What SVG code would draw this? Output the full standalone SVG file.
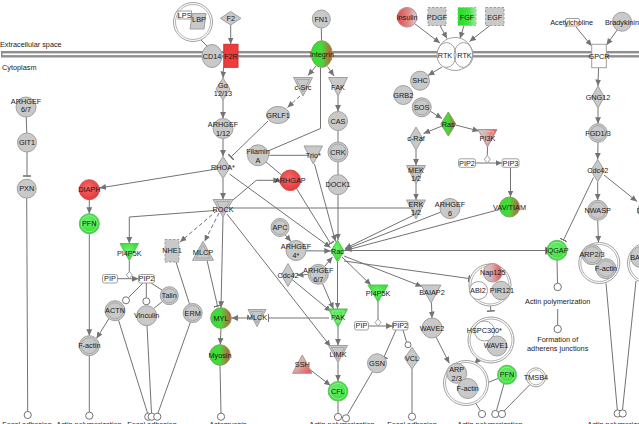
<svg xmlns="http://www.w3.org/2000/svg" width="639" height="424" viewBox="0 0 639 424">
<defs>
<style>
text{font-family:"Liberation Sans",Arial,sans-serif;font-size:7.3px;fill:#1a1a1a;text-anchor:middle}
text.l{text-anchor:start}
.n{fill:#c9c9c9;stroke:#a0a0a0;stroke-width:1}
.w{fill:#fff;stroke:#a0a0a0;stroke-width:1}
.i{fill:none;stroke:#a0a0a0;stroke-width:0.8}
.gi{fill:none;stroke:#a8eaa8;stroke-width:0.8}
.g{fill:url(#gn);stroke:#5bc45b;stroke-width:1}
.r{fill:url(#rd);stroke:#d05050;stroke-width:1}
.gr{fill:url(#grr);stroke:#8a9a6a;stroke-width:1}
.yr{fill:url(#gyr);stroke:#b89090;stroke-width:1}
.dsh{stroke-dasharray:2.5 1.5}
#connectors path{fill:none;stroke:#737373;stroke-width:1}
#connectors .d{stroke-dasharray:4 2.5}
.o{fill:#fff;stroke:#737373;stroke-width:1}
</style>
<radialGradient id="gn" cx="0.45" cy="0.4" r="0.65"><stop offset="0" stop-color="#6cf46c"/><stop offset="1" stop-color="#2fd62f"/></radialGradient>
<radialGradient id="rd" cx="0.45" cy="0.4" r="0.65"><stop offset="0" stop-color="#f46a6a"/><stop offset="1" stop-color="#e53434"/></radialGradient>
<linearGradient id="grr" x1="0" y1="0" x2="1" y2="0"><stop offset="0" stop-color="#2ee42e"/><stop offset="0.5" stop-color="#48d83a"/><stop offset="1" stop-color="#c8553a"/></linearGradient>
<linearGradient id="gyr" x1="0" y1="0" x2="1" y2="0"><stop offset="0" stop-color="#cdcdcd"/><stop offset="0.45" stop-color="#d8b0b0"/><stop offset="1" stop-color="#e84848"/></linearGradient>
<linearGradient id="gyr2" x1="0" y1="0" x2="1" y2="1"><stop offset="0" stop-color="#cdcdcd"/><stop offset="0.45" stop-color="#d8b0b0"/><stop offset="1" stop-color="#e84848"/></linearGradient>
<linearGradient id="rgy" x1="0" y1="0" x2="1" y2="0"><stop offset="0" stop-color="#e04c4c"/><stop offset="0.6" stop-color="#e08a8a"/><stop offset="1" stop-color="#d8d8d8"/></linearGradient>
<linearGradient id="fgf" x1="0" y1="0" x2="1" y2="0"><stop offset="0" stop-color="#22dd22"/><stop offset="0.6" stop-color="#44e044"/><stop offset="1" stop-color="#a6e8a6"/></linearGradient>
<marker id="a" viewBox="0 0 10 10" refX="10" refY="5" markerWidth="6.5" markerHeight="6.5" markerUnits="userSpaceOnUse" orient="auto"><path d="M0,0.5 L10,5 L0,9.5 z" fill="#737373"/></marker>
<marker id="t" viewBox="0 0 2 10" refX="1" refY="5" markerWidth="1.6" markerHeight="8" markerUnits="userSpaceOnUse" orient="auto"><rect width="2" height="10" fill="#737373"/></marker>
</defs>
<rect width="639" height="424" fill="#fff"/>
<g id="membrane">
<rect x="1" y="51" width="640" height="6.5" fill="#8e8e8e"/>
<rect x="2.5" y="53.4" width="640" height="1.7" fill="#fff"/>
<text class="l" x="0" y="47">Extracellular space</text>
<text class="l" x="2" y="69.5">Cytoplasm</text>
</g>
<g id="connectors">
<path d="M200.5,39.5 L207,46"/>
<path d="M230.7,25 L230.7,44" marker-end="url(#a)"/>
<path d="M223.5,67.3 L223,78" marker-end="url(#a)"/>
<path d="M223,100 L223,118.5" marker-end="url(#a)"/>
<path d="M223,138.5 L223,156.5" marker-end="url(#a)"/>
<path d="M223,178.5 L223,199.5" marker-end="url(#a)"/>
<path d="M216.5,169 L99.5,188" marker-end="url(#a)"/>
<path d="M229.5,174 L330.5,247.5" marker-end="url(#a)"/>
<path d="M227,205 L256.3,180.3 L279.8,180.3" marker-end="url(#a)"/>
<path d="M228,208 L410.5,208"/>
<path d="M215,210.5 L129.3,217 L129.3,243.5" marker-end="url(#a)"/>
<path class="d" d="M217,210.5 L180,242" marker-end="url(#a)"/>
<path class="d" d="M219,213 L204.5,241.5" marker-end="url(#a)"/>
<path d="M223,217 L221,307.7" marker-end="url(#a)"/>
<path d="M227,214 L330.5,346.5" marker-end="url(#a)"/>
<path d="M316,66 L308,75.5" marker-end="url(#a)"/>
<path d="M327.5,66.5 L334,76" marker-end="url(#a)"/>
<path d="M321.3,28 L321.5,40.7"/>
<path class="d" d="M300,96 L287.5,107.5" marker-end="url(#a)"/>
<path d="M268,121 L231,157" marker-end="url(#t)"/>
<path d="M320.5,67.3 L320.5,128.5 L267.6,151.2"/>
<path d="M268.5,155.3 L308.5,155.3"/>
<path d="M266,162 L281.5,175"/>
<path d="M338,96 L338,111.5" marker-end="url(#a)"/>
<path d="M338,130.5 L338,142"/>
<path d="M338,162 L338,174.7"/>
<path d="M338,194.7 L338,240" marker-end="url(#a)"/>
<path d="M314.5,164 L335.5,241.5" marker-end="url(#a)"/>
<path d="M296.5,188.5 L330.5,243.5" marker-end="url(#t)"/>
<path d="M285,234.5 L291,241.5" marker-end="url(#a)"/>
<path d="M306,250.8 L330.8,251" marker-end="url(#a)"/>
<path d="M324.5,266.5 L332.5,257" marker-end="url(#a)"/>
<path d="M308.3,274.5 L297,275" marker-end="url(#a)"/>
<path d="M292,279.5 L331,311.5" marker-end="url(#a)"/>
<path d="M322.5,283.5 L333.5,309" marker-end="url(#a)"/>
<path d="M337.5,262 L337.5,309" marker-end="url(#a)"/>
<path d="M342,257 L371,285" marker-end="url(#a)"/>
<path d="M344,256 L422,286.5" marker-end="url(#a)"/>
<path d="M344,261 L469,278.5" marker-end="url(#t)"/>
<path d="M344,250.5 L546,250.5" marker-end="url(#t)"/>
<path d="M414,215 L345,248.5" marker-end="url(#a)"/>
<path d="M441,212 L345,249.5" marker-end="url(#a)"/>
<path d="M499.5,209.5 L345,250.5" marker-end="url(#a)"/>
<path d="M431.5,303 L432,318" marker-end="url(#a)"/>
<path d="M378,302 L378,319"/>
<path d="M368.5,326 L392.5,326" marker-end="url(#a)"/>
<path d="M329,318 L268.5,318" marker-end="url(#t)"/>
<path d="M251.5,318 L231.5,318" marker-end="url(#a)"/>
<path d="M207,260.3 L217.5,306" marker-end="url(#t)"/>
<path d="M221,328.3 L220.3,344.5" marker-end="url(#a)"/>
<path d="M220,365.3 L221,413"/>
<path d="M338,327 L338,345.5" marker-end="url(#a)"/>
<path d="M338,362.5 L338,381.3" marker-end="url(#a)"/>
<path d="M308,368 L330.5,385.5" marker-end="url(#a)"/>
<path d="M338,401 L338,413.3"/>
<path d="M372.5,371.5 L347.5,414.5"/>
<path d="M396,330 L384,357" marker-end="url(#t)"/>
<path d="M403,330 L406.5,341.8"/>
<path d="M412,369 L412,413"/>
<path d="M26.2,117 L26.8,133"/>
<path d="M27,152 L27,176" marker-end="url(#t)"/>
<path d="M26.7,198.2 L27.7,411.3"/>
<path d="M89.3,199.7 L89.3,213.7" marker-end="url(#a)"/>
<path d="M89.3,233.7 L89.3,335.7" marker-end="url(#a)"/>
<path d="M89.3,355.7 L89.3,412"/>
<path d="M109,318.5 L96.5,338.5" marker-end="url(#a)"/>
<path d="M129.3,260.5 L129.3,271.5"/>
<path d="M117.5,278.7 L138.5,278.7" marker-end="url(#a)"/>
<path d="M143,283 L128.5,297.5"/>
<path d="M146.3,283 L146.3,297.8"/>
<path d="M151,283 L162,290"/>
<path d="M153.5,308.5 L162.5,301.5"/>
<path d="M118.5,320 L147.5,413"/>
<path d="M147,325.7 L151.5,413"/>
<path d="M190.5,322 L158,413"/>
<path d="M176,262 L189.5,304"/>
<path d="M414.5,23.5 L440,43" marker-end="url(#a)"/>
<path d="M440,25.5 L447,38.5" marker-end="url(#a)"/>
<path d="M464,25.5 L460,38.5" marker-end="url(#a)"/>
<path d="M490,25.5 L469.5,41.5" marker-end="url(#a)"/>
<path d="M442,67 L428,75.5" marker-end="url(#a)"/>
<path d="M430,111 L442,118.5" marker-end="url(#a)"/>
<path d="M442,126 L423.5,133.5" marker-end="url(#a)"/>
<path d="M455.5,125 L479,131" marker-end="url(#a)"/>
<path d="M416,150 L416,165.5" marker-end="url(#a)"/>
<path d="M416,184 L416,200" marker-end="url(#a)"/>
<path d="M487.5,147 L487.3,155.5"/>
<path d="M475.5,163 L502,163" marker-end="url(#a)"/>
<path d="M510.5,167.3 L510.5,197" marker-end="url(#a)"/>
<path d="M576,27 L591.7,46" marker-end="url(#a)"/>
<path d="M617.5,29.5 L606.5,45" marker-end="url(#a)"/>
<path d="M598.5,67.7 L598,86" marker-end="url(#a)"/>
<path d="M598,108 L598,123.7" marker-end="url(#a)"/>
<path d="M598,142.3 L597.7,159.5" marker-end="url(#a)"/>
<path d="M597.7,181.5 L597.7,200.3" marker-end="url(#a)"/>
<path d="M604,175 L637,201.5" marker-end="url(#a)"/>
<path d="M593.5,177.5 L563.5,240" marker-end="url(#t)"/>
<path d="M597.7,220.3 L598.5,242.5" marker-end="url(#a)"/>
<path d="M557,260.3 L557.5,283.3"/>
<path d="M557.7,309 L557.7,325.3"/>
<path d="M606,283.3 L617.3,409.8"/>
<path d="M636,281 L622.5,409.8"/>
<path d="M490.5,306 L490.8,311" marker-end="url(#t)"/>
<path d="M436,337 L449.3,363.3" marker-end="url(#a)"/>
<path d="M482,356 L474.3,364" marker-end="url(#a)"/>
<path d="M472.7,398.5 L480.3,410.5"/>
<path d="M498,378.5 L477.5,386.5"/>
<path d="M504,383.8 L496.5,410.5"/>
<path d="M530,384.5 L504,411"/>
<polygon points="129.3,271.5 132.3,275 129.3,278.5 126.3,275" class="w"/>
<polygon points="378,319 381,322.5 378,326 375,322.5" class="w"/>
<polygon points="487.3,155.5 490.3,159.3 487.3,163 484.3,159.3" class="w"/>
<circle cx="27.7" cy="415" r="3.6" class="o"/>
<circle cx="89.3" cy="415.7" r="3.6" class="o"/>
<circle cx="148.3" cy="416.7" r="3.6" class="o"/>
<circle cx="151.7" cy="416.7" r="3.6" class="o"/>
<circle cx="157.3" cy="416.7" r="3.6" class="o"/>
<circle cx="126" cy="300.3" r="3.5" class="o"/>
<circle cx="146.3" cy="301.3" r="3.5" class="o"/>
<circle cx="221" cy="416.7" r="3.6" class="o"/>
<circle cx="338" cy="417" r="3.6" class="o"/>
<circle cx="346" cy="418.3" r="3.6" class="o"/>
<circle cx="408" cy="344.8" r="3" class="o"/>
<circle cx="412" cy="416.7" r="3.6" class="o"/>
<circle cx="482" cy="414" r="3.6" class="o"/>
<circle cx="495.3" cy="414" r="3.6" class="o"/>
<circle cx="502" cy="414" r="3.6" class="o"/>
<circle cx="617.7" cy="413.5" r="3.6" class="o"/>
<circle cx="622.7" cy="413.5" r="3.6" class="o"/>
<circle cx="557.7" cy="287" r="3.7" class="o"/>
<circle cx="557.7" cy="329" r="3.7" class="o"/>
</g>
<g id="lps-lbp"><circle cx="193" cy="22" r="19.5" class="w"/><circle cx="193" cy="22" r="17.5" class="i"/><polygon points="192.5,13.5 206,13.5 204,29 190,29" class="n"/><rect x="178" y="11" width="13.5" height="8" class="w"/><text x="184.7" y="17.8">LPS</text><text x="199" y="22">LBP</text></g>
<g id="cd14"><ellipse cx="212" cy="56" rx="10" ry="11.5" class="n"/><text x="212" y="58.6">CD14</text></g>
<g id="f2"><polygon points="230.7,11.5 241,18.3 230.7,25 220.4,18.3" class="n"/><text x="230.7" y="21">F2</text></g>
<g id="f2r"><rect x="223.8" y="44.3" width="14.2" height="23" fill="#ee3b3b" stroke="#d03030"/><text x="231" y="58.6">F2R</text></g>
<g id="galpha"><polygon points="223,78 230,89 223,100 216,89" class="n"/><text x="223" y="87.6">Gα</text><text x="223" y="96">12/13</text></g>
<g id="arhgef1-12"><circle cx="223" cy="128.5" r="10" class="n"/><text x="223" y="127">ARHGEF</text><text x="223" y="135.5">1/12</text></g>
<g id="rhoa"><polygon points="223,156.5 230,167.5 223,178.5 216,167.5" class="n"/><text x="223" y="170">RHOA*</text></g>
<g id="rock"><polygon points="213,199.5 233,199.5 223,217" class="n"/><polygon points="216.5,201.5 229.5,201.5 223,213" class="i"/><text x="223" y="211.5">ROCK</text></g>
<g id="fn1"><circle cx="321.3" cy="19" r="9" class="n"/><text x="321.3" y="21.6">FN1</text></g>
<g id="integrin"><ellipse cx="321.8" cy="54" rx="10.5" ry="13.3" class="gr"/><text x="321.8" y="56.6">Integrin</text></g>
<g id="csrc"><polygon points="293.5,77.5 312.5,77.5 303,96" class="n"/><polygon points="296.5,79.5 309.5,79.5 303,92" class="i"/><text x="303" y="90">c-Src</text></g>
<g id="fak"><polygon points="328.5,77.5 347.5,77.5 338,96" class="n"/><text x="338" y="89.5">FAK</text></g>
<g id="grlf1"><ellipse cx="278" cy="115" rx="11.5" ry="8.5" class="n"/><text x="278" y="117.6">GRLF1</text></g>
<g id="cas"><circle cx="338" cy="121" r="9.5" class="n"/><text x="338" y="123.6">CAS</text></g>
<g id="crk"><circle cx="338" cy="152" r="10" class="n"/><circle cx="338" cy="152" r="8" class="i"/><text x="338" y="154.6">CRK</text></g>
<g id="dock1"><circle cx="338" cy="184.7" r="10" class="n"/><text x="338" y="187.3">DOCK1</text></g>
<g id="filamin"><circle cx="258" cy="155.3" r="10.5" class="n"/><text x="258" y="153.5">Filamin</text><text x="258" y="162.5">A</text></g>
<g id="trio"><polygon points="304,146 322.5,146 313.3,164" class="n"/><text x="313.3" y="157.5">Trio*</text></g>
<g id="arhgap"><circle cx="290.3" cy="180.3" r="10.3" class="r"/><text x="290.3" y="183">ARHGAP</text></g>
<g id="apc"><circle cx="280" cy="227.5" r="9" class="n"/><circle cx="280" cy="227.5" r="7" class="i"/><text x="280" y="230">APC</text></g>
<g id="arhgef4"><circle cx="296" cy="250.5" r="10" class="n"/><text x="296" y="249.3">ARHGEF</text><text x="296" y="257.6">4*</text></g>
<g id="rac"><polygon points="337.5,240 344,251 337.5,262 331,251" class="g"/><text x="337.5" y="253.6">Rac</text></g>
<g id="cdc42-mid"><polygon points="288,263.5 294.5,275 288,286.5 281.5,275" class="n"/><text x="288" y="277.6">Cdc42</text></g>
<g id="arhgef6-7-mid"><circle cx="318.3" cy="274.3" r="10" class="n"/><circle cx="318.3" cy="274.3" r="8" class="i"/><text x="318.3" y="273">ARHGEF</text><text x="318.3" y="281.6">6/7</text></g>
<g id="pi4p5k-r"><polygon points="368,285 388,285 378,302" class="g"/><text x="378" y="296">PI4P5K</text></g>
<g id="pip-r"><rect x="354.5" y="321.5" width="14" height="8.5" rx="2" class="w"/><text x="361.5" y="328.3">PIP</text></g>
<g id="pip2-r"><rect x="392.5" y="321.5" width="15.5" height="8.5" rx="2" class="w"/><text x="400.2" y="328.3">PIP2</text></g>
<g id="baiap2"><polygon points="421,285 441,285 431,303" class="n"/><text x="432" y="295">BAIAP2</text></g>
<g id="wave2"><circle cx="432" cy="328" r="10" class="n"/><text x="432" y="330.6">WAVE2</text></g>
<g id="mlck"><polygon points="248,309.5 266,309.5 257,326.5" class="n"/><polygon points="251,311.5 263,311.5 257,323" class="i"/><text x="257" y="320.3">MLCK</text></g>
<g id="pak"><polygon points="328.5,309 347.5,309 338,327" class="g"/><polygon points="331.5,311 344.5,311 338,323" class="gi"/><text x="338" y="320.3">PAK</text></g>
<g id="myl"><circle cx="221" cy="318" r="10.3" class="gr"/><text x="221" y="320.6">MYL</text></g>
<g id="myosin"><circle cx="220" cy="355" r="10.3" class="gr"/><text x="220" y="357.6">Myosin</text></g>
<g id="limk"><polygon points="328.5,345.5 347.5,345.5 338,362.5" class="n"/><polygon points="331.5,347.5 344.5,347.5 338,359" class="i"/><text x="338" y="356.6">LIMK</text></g>
<g id="ssh"><polygon points="302.3,355 312,373.3 292.6,373.3" fill="url(#gyr2)" stroke="#b89090"/><text x="302.3" y="366.5">SSH</text></g>
<g id="cfl"><circle cx="338" cy="391.3" r="9.8" class="g"/><circle cx="338" cy="391.3" r="7.8" class="gi"/><text x="338" y="393.9">CFL</text></g>
<g id="gsn"><circle cx="377" cy="363.3" r="9.5" class="n"/><text x="377" y="366">GSN</text></g>
<g id="vcl"><polygon points="412,347.3 419.5,358.2 412,369 404.5,358.2" class="n"/><text x="412" y="360.8">VCL</text></g>
<g id="arhgef6-7-l"><circle cx="26" cy="107" r="10" class="n"/><text x="26" y="104.3">ARHGEF</text><text x="26" y="112">6/7</text></g>
<g id="git1"><circle cx="27" cy="142.5" r="9.5" class="n"/><text x="27" y="145">GIT1</text></g>
<g id="pxn"><circle cx="26.7" cy="188.7" r="9.5" class="n"/><text x="26.7" y="191.3">PXN</text></g>
<g id="diaph-l"><circle cx="89.3" cy="189.7" r="10" class="r"/><text x="89.3" y="192.3">DIAPH</text></g>
<g id="pfn-l"><circle cx="89.3" cy="223.7" r="10" class="g"/><circle cx="89.3" cy="223.7" r="8" class="gi"/><text x="89.3" y="226.3">PFN</text></g>
<g id="pi4p5k-l"><polygon points="120,243.5 138.5,243.5 129.3,260.5" class="g"/><text x="129.3" y="255.5">PI4P5K</text></g>
<g id="pip-l"><rect x="102.5" y="274.5" width="15" height="8.5" rx="2" class="w"/><text x="110" y="281.3">PIP</text></g>
<g id="pip2-l"><rect x="138.5" y="274.5" width="16" height="8.5" rx="2" class="w"/><text x="146.5" y="281.3">PIP2</text></g>
<g id="nhe1"><rect x="165" y="239.5" width="14" height="22.5" class="n dsh"/><text x="172" y="253.3">NHE1</text></g>
<g id="mlcp"><polygon points="203,241.3 213.5,260.3 192.5,260.3" class="n"/><polygon points="203,245 210,258 196,258" class="i"/><text x="203" y="254.5">MLCP</text></g>
<g id="actn"><circle cx="115" cy="310.7" r="10" class="n"/><circle cx="115" cy="310.7" r="8" class="i"/><text x="115" y="313.3">ACTN</text></g>
<g id="vinculin"><circle cx="146.7" cy="315.7" r="10" class="n"/><text x="146.7" y="318.3">Vinculin</text></g>
<g id="talin"><circle cx="169.3" cy="295.7" r="9" class="n"/><circle cx="169.3" cy="295.7" r="7" class="i"/><text x="169.3" y="298.3">Talin</text></g>
<g id="erm"><circle cx="192.7" cy="313" r="9.5" class="n"/><circle cx="192.7" cy="313" r="7.5" class="i"/><text x="192.7" y="315.6">ERM</text></g>
<g id="factin-l"><circle cx="89.3" cy="345.7" r="10" class="n"/><circle cx="89.3" cy="345.7" r="8" class="i"/><text x="89.3" y="348.3">F-actin</text></g>
<g id="insulin"><circle cx="407" cy="17.3" r="9.8" fill="url(#rgy)" stroke="#c08a8a"/><text x="407" y="20">Insulin</text></g>
<g id="pdgf"><rect x="428" y="7.5" width="18" height="18" class="n dsh"/><text x="437" y="19.5">PDGF</text></g>
<g id="fgf"><rect x="458" y="7.5" width="18" height="18" fill="url(#fgf)" stroke="#8ccc8c" class="dsh"/><text x="467" y="19.5">FGF</text></g>
<g id="egf"><rect x="485.5" y="7.5" width="18.5" height="18" class="n dsh"/><text x="494.7" y="19.5">EGF</text></g>
<g id="rtk"><ellipse cx="455" cy="54" rx="17.5" ry="16.5" class="w"/><ellipse cx="446.5" cy="55" rx="9.5" ry="12.5" class="w"/><ellipse cx="463.5" cy="55" rx="9.5" ry="12.5" fill="none" stroke="#a0a0a0"/><text x="445" y="57.6">RTK</text><text x="464.5" y="57.6">RTK</text></g>
<g id="shc"><circle cx="420" cy="80.7" r="9.5" class="n"/><text x="420" y="83.3">SHC</text></g>
<g id="grb2"><circle cx="403.3" cy="95" r="9.5" class="n"/><text x="403.3" y="97.6">GRB2</text></g>
<g id="sos"><circle cx="421.7" cy="107.3" r="9.5" class="n"/><circle cx="421.7" cy="107.3" r="7.5" class="i"/><text x="421.7" y="110">SOS</text></g>
<g id="ras"><polygon points="448.3,112 455.8,124 448.3,136 440.8,124" class="gr"/><text x="448.3" y="126.6">Ras</text></g>
<g id="craf"><polygon points="416,127 422.8,138.5 416,150 409.2,138.5" class="n"/><text x="416" y="141">c-Raf</text></g>
<g id="pi3k"><polygon points="478,129.5 497,129.5 487.5,147" class="yr"/><polygon points="481,131.5 494,131.5 487.5,143" fill="none" stroke="#e0c0c0" stroke-width="0.8"/><text x="487.5" y="141">PI3K</text></g>
<g id="mek"><polygon points="406.5,165.5 425.5,165.5 416,184" class="n"/><polygon points="409.5,167.5 422.5,167.5 416,180" class="i"/><text x="416" y="172.6">MEK</text><text x="416" y="180.6">1/2</text></g>
<g id="erk"><polygon points="406.5,200 425.5,200 416,219" class="n"/><polygon points="409.5,202 422.5,202 416,215" class="i"/><text x="416" y="207.3">ERK</text><text x="416" y="215.3">1/2</text></g>
<g id="pip2-t"><rect x="458.5" y="158.8" width="17" height="8.5" rx="2" class="w"/><text x="467" y="165.6">PIP2</text></g>
<g id="pip3"><rect x="502" y="158.8" width="17" height="8.5" rx="2" class="w"/><text x="510.5" y="165.6">PIP3</text></g>
<g id="vav-tiam"><circle cx="509.5" cy="207" r="10" class="gr"/><text x="509.5" y="209.6">VAV/TIAM</text></g>
<g id="arhgef6"><circle cx="450" cy="208.5" r="10" class="n"/><text x="450" y="207.3">ARHGEF</text><text x="450" y="216.3">6</text></g>
<g id="acetylcholine"><rect x="565.5" y="18.5" width="14" height="7.5" rx="1.5" class="w"/><text x="571.7" y="25.3">Acetylcholine</text></g>
<g id="bradykinin"><circle cx="622" cy="21.7" r="9.5" class="n"/><text x="622" y="25.3">Bradykinin</text></g>
<g id="gpcr"><rect x="591.7" y="44.3" width="14.6" height="23.4" class="w"/><text x="599" y="58.6">GPCR</text></g>
<g id="gng12"><polygon points="598,86 604.3,97 598,108 591.7,97" class="n"/><text x="598" y="99.6">GNG12</text></g>
<g id="fgd1-3"><circle cx="598" cy="133" r="9.3" class="n"/><circle cx="598" cy="133" r="7.3" class="i"/><text x="598" y="135.6">FGD1/3</text></g>
<g id="cdc42-r"><polygon points="597.7,159.5 604.5,170.5 597.7,181.5 590.9,170.5" class="n"/><text x="597.7" y="173">Cdc42</text></g>
<g id="nwasp"><circle cx="597.7" cy="210.3" r="10" class="n"/><circle cx="597.7" cy="210.3" r="8" class="i"/><text x="597.7" y="213">NWASP</text></g>
<g id="diaph-r"><circle cx="648" cy="210" r="10" class="n"/><text x="648" y="212.6">DIAPH</text></g>
<g id="arp-factin-r"><circle cx="599.3" cy="263" r="20.5" class="w"/><circle cx="599.3" cy="263" r="18.5" class="i"/><circle cx="592" cy="254.7" r="10" class="n"/><circle cx="592" cy="254.7" r="8" class="i"/><circle cx="606" cy="268.7" r="10" class="n"/><circle cx="606" cy="268.7" r="8" class="i"/><text x="592" y="257.3">ARP2/3</text><text x="606" y="271.3">F-actin</text></g>
<g id="baiap2-complex"><circle cx="648" cy="263" r="20.5" class="w"/><circle cx="648" cy="263" r="18.5" class="i"/><circle cx="641" cy="257" r="10.5" class="n"/><text x="643" y="260">BAIAP2</text></g>
<g id="iqgap"><circle cx="557" cy="250.3" r="10" class="g"/><circle cx="557" cy="250.3" r="8" class="gi"/><text x="557" y="253">IQGAP</text></g>
<g id="nap-complex"><circle cx="490" cy="285" r="21" class="w"/><circle cx="490" cy="285" r="19" class="i"/><circle cx="478.5" cy="290.5" r="9" class="w"/><circle cx="501" cy="290.5" r="9.3" class="n"/><circle cx="492.7" cy="272.7" r="9.3" class="yr"/><text x="492.7" y="275.3">Nap125</text><text x="478" y="293.3">ABI2</text><text x="502" y="293.3">PIR121</text></g>
<g id="hspc-complex"><circle cx="491" cy="340" r="23" class="w"/><circle cx="491" cy="340" r="21" class="i"/><circle cx="484.5" cy="331" r="10" class="w"/><circle cx="497" cy="346" r="10" class="n"/><text x="484.3" y="333.3">HSPC300*</text><text x="496" y="348.3">WAVE1</text></g>
<g id="arp-factin-l"><circle cx="466" cy="383" r="22.5" class="w"/><circle cx="466" cy="383" r="20.5" class="i"/><circle cx="456.7" cy="373.3" r="10" class="n"/><circle cx="467.7" cy="388.5" r="10" class="n"/><text x="456.7" y="371.5">ARP</text><text x="456.7" y="381">2/3</text><text x="467.7" y="391">F-actin</text></g>
<g id="pfn-r"><circle cx="507" cy="374.7" r="9.5" class="g"/><circle cx="507" cy="374.7" r="7.5" class="gi"/><text x="507" y="377.3">PFN</text></g>
<g id="tmsb4"><circle cx="536" cy="377.3" r="9.5" class="w"/><circle cx="536" cy="377.3" r="7.5" class="i"/><text x="536" y="380">TMSB4</text></g>
<g id="functions">
<text x="557.7" y="304">Actin polymerization</text>
<text x="557.7" y="342">Formation of</text>
<text x="557.7" y="350.5">adherens junctions</text>
<text x="27" y="426.5">Focal adhesion</text>
<text x="89" y="426.5">Actin polymerization</text>
<text x="152" y="426.5">Focal adhesion</text>
<text x="228" y="426.5">Actomyosin</text>
<text x="342" y="426.5">Actin polymerization</text>
<text x="412" y="426.5">Focal adhesion</text>
<text x="490" y="426.5">Actin polymerization</text>
<text x="620" y="426.5">Actin polymerization</text>
</g>
</svg>
